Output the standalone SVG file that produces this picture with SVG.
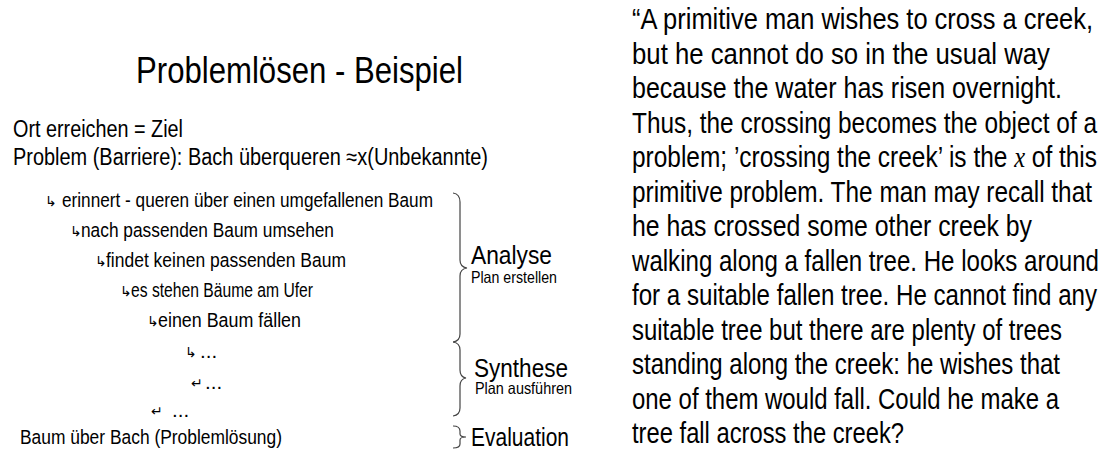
<svg xmlns="http://www.w3.org/2000/svg" width="1102" height="450" viewBox="0 0 1102 450">
<style>
text{font-family:"Liberation Sans",Arial,sans-serif;fill:#000}
.t{font-size:36px}
.m{font-size:23.5px}
.s{font-size:20.5px}
.a{font-family:"DejaVu Sans",sans-serif;font-size:14px}
.lbl{font-size:26px}
.sub{font-size:16.5px}
.q{font-size:30px}
.br{fill:none;stroke:#444;stroke-width:1.2}
</style>
<rect width="1102" height="450" fill="#fff"/>
<g id="title"><text class="t" x="136" y="83" textLength="327" lengthAdjust="spacingAndGlyphs">Problemlösen - Beispiel</text></g>
<g id="goal"><text class="m" x="13" y="137" textLength="170" lengthAdjust="spacingAndGlyphs">Ort erreichen = Ziel</text></g>
<g id="problem"><text class="m" x="13" y="165" textLength="475" lengthAdjust="spacingAndGlyphs">Problem (Barriere): Bach überqueren ≈x(Unbekannte)</text></g>
<g id="step1"><text class="a" x="45" y="206">↳</text><text class="s" x="62" y="207" textLength="371" lengthAdjust="spacingAndGlyphs">erinnert - queren über einen umgefallenen Baum</text></g>
<g id="step2"><text class="a" x="70" y="236">↳</text><text class="s" x="81" y="237" textLength="253" lengthAdjust="spacingAndGlyphs">nach passenden Baum umsehen</text></g>
<g id="step3"><text class="a" x="95" y="266">↳</text><text class="s" x="106" y="267" textLength="240" lengthAdjust="spacingAndGlyphs">findet keinen passenden Baum</text></g>
<g id="step4"><text class="a" x="120" y="296">↳</text><text class="s" x="131" y="297" textLength="182" lengthAdjust="spacingAndGlyphs">es stehen Bäume am Ufer</text></g>
<g id="step5"><text class="a" x="147" y="326">↳</text><text class="s" x="158" y="327" textLength="143" lengthAdjust="spacingAndGlyphs">einen Baum fällen</text></g>
<g id="step6"><text class="a" x="185" y="357">↳</text><text class="s" x="200" y="358">...</text></g>
<g id="step7"><text class="a" x="191" y="388">↵</text><text class="s" x="205" y="389">...</text></g>
<g id="step8"><text class="a" x="151" y="416">↵</text><text class="s" x="172" y="417">...</text></g>
<g id="solution"><text class="s" x="20" y="444" textLength="262" lengthAdjust="spacingAndGlyphs">Baum über Bach (Problemlösung)</text></g>
<g id="connectors">
<path class="br" d="M453,193 Q460,194 460,202 L460,260 Q460,267 467,268 Q460,269 460,276 L460,334 Q460,341 453,342"/>
<path class="br" d="M453,342 Q460,343 460,350 L460,370 Q460,377 466,378 Q460,379 460,386 L460,408 Q460,415 453,416"/>
<path class="br" d="M453,426 Q460,426 460,431 L460,434 Q460,437 466,437 Q460,437 460,440 L460,444 Q460,448 453,448"/>
</g>
<g id="analyse"><text class="lbl" x="471" y="264" textLength="81" lengthAdjust="spacingAndGlyphs">Analyse</text><text class="sub" x="471" y="283" textLength="86" lengthAdjust="spacingAndGlyphs">Plan erstellen</text></g>
<g id="synthese"><text class="lbl" x="474" y="377" textLength="94" lengthAdjust="spacingAndGlyphs">Synthese</text><text class="sub" x="475" y="394" textLength="97" lengthAdjust="spacingAndGlyphs">Plan ausführen</text></g>
<g id="evaluation"><text class="lbl" x="471" y="446" textLength="98" lengthAdjust="spacingAndGlyphs">Evaluation</text></g>
<g id="quote">
<text class="q" x="632" y="29" textLength="461" lengthAdjust="spacingAndGlyphs">“A primitive man wishes to cross a creek,</text>
<text class="q" x="632" y="63.5" textLength="418" lengthAdjust="spacingAndGlyphs">but he cannot do so in the usual way</text>
<text class="q" x="632" y="98" textLength="430" lengthAdjust="spacingAndGlyphs">because the water has risen overnight.</text>
<text class="q" x="632" y="132.5" textLength="465" lengthAdjust="spacingAndGlyphs">Thus, the crossing becomes the object of a</text>
<text class="q" x="632" y="167" textLength="465" lengthAdjust="spacingAndGlyphs">problem; ’crossing the creek’ is the <tspan style="font-family:'Liberation Serif',serif;font-style:italic">x</tspan> of this</text>
<text class="q" x="632" y="201.5" textLength="460" lengthAdjust="spacingAndGlyphs">primitive problem. The man may recall that</text>
<text class="q" x="632" y="236" textLength="400" lengthAdjust="spacingAndGlyphs">he has crossed some other creek by</text>
<text class="q" x="632" y="270.5" textLength="467" lengthAdjust="spacingAndGlyphs">walking along a fallen tree. He looks around</text>
<text class="q" x="632" y="305" textLength="465" lengthAdjust="spacingAndGlyphs">for a suitable fallen tree. He cannot find any</text>
<text class="q" x="632" y="339.5" textLength="430" lengthAdjust="spacingAndGlyphs">suitable tree but there are plenty of trees</text>
<text class="q" x="632" y="374" textLength="428" lengthAdjust="spacingAndGlyphs">standing along the creek: he wishes that</text>
<text class="q" x="632" y="408.5" textLength="427" lengthAdjust="spacingAndGlyphs">one of them would fall. Could he make a</text>
<text class="q" x="632" y="443" textLength="272" lengthAdjust="spacingAndGlyphs">tree fall across the creek?</text>
</g>
</svg>
